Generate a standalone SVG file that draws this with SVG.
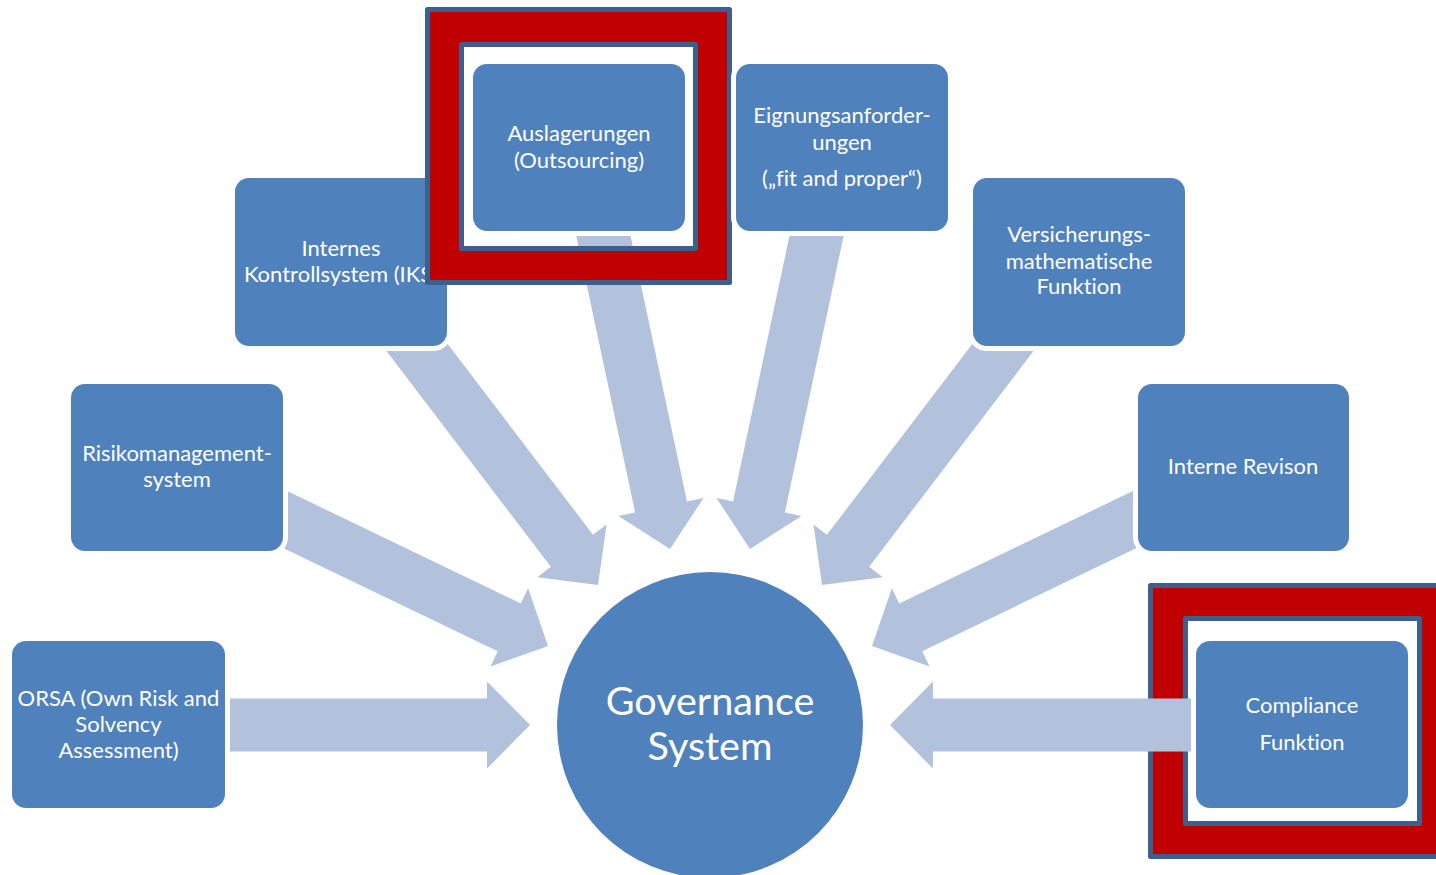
<svg xmlns="http://www.w3.org/2000/svg" width="1436" height="875" viewBox="0 0 1436 875">
  <style>
    .box { fill: #4F81BD; stroke: #FFFFFF; stroke-width: 10; paint-order: stroke fill; }
    .arrow { fill: #B2C1DC; }
    .frame { fill: #C00000; fill-rule: evenodd; stroke: #3C5F8D; stroke-width: 5; stroke-linejoin: round; }
    .label { fill: #FFFFFF; font-family: Lato, "Liberation Sans", sans-serif; font-size: 22px; text-anchor: middle; font-variant-ligatures: none; }
    .title { font-size: 39.5px; }
  </style>
  <rect width="1436" height="875" fill="#FFFFFF"/>

  <!-- highlight frame around the compliance node (sits below its connector) -->
  <g id="highlight-compliance">
    <path class="frame" d="M1150.5,585.5 H1446 V856.5 H1150.5 Z M1185.5,618.5 V823.5 H1419.5 V618.5 Z"/>
  </g>

  <!-- block arrows pointing to the central circle -->
  <g id="connectors">
    <path class="arrow" transform="translate(530,725) rotate(0)" d="M0,0 L-43,-43.5 L-43,-26.5 L-315,-26.5 L-315,26.5 L-43,26.5 L-43,43.5 Z"/>
    <path class="arrow" transform="translate(548,646) rotate(25.7)" d="M0,0 L-43,-43.5 L-43,-26.5 L-320,-26.5 L-320,26.5 L-43,26.5 L-43,43.5 Z"/>
    <path class="arrow" transform="translate(598,585) rotate(52.7)" d="M0,0 L-43,-43.5 L-43,-26.5 L-340,-26.5 L-340,26.5 L-43,26.5 L-43,43.5 Z"/>
    <path class="arrow" transform="translate(670,549) rotate(78)" d="M0,0 L-43,-43.5 L-43,-26.5 L-345,-26.5 L-345,26.5 L-43,26.5 L-43,43.5 Z"/>
    <path class="arrow" transform="translate(750,549) rotate(102)" d="M0,0 L-43,-43.5 L-43,-26.5 L-345,-26.5 L-345,26.5 L-43,26.5 L-43,43.5 Z"/>
    <path class="arrow" transform="translate(822,585) rotate(127.3)" d="M0,0 L-43,-43.5 L-43,-26.5 L-340,-26.5 L-340,26.5 L-43,26.5 L-43,43.5 Z"/>
    <path class="arrow" transform="translate(872,646) rotate(154.3)" d="M0,0 L-43,-43.5 L-43,-26.5 L-320,-26.5 L-320,26.5 L-43,26.5 L-43,43.5 Z"/>
    <path class="arrow" transform="translate(890,725) rotate(180)" d="M0,0 L-43,-43.5 L-43,-26.5 L-310,-26.5 L-310,26.5 L-43,26.5 L-43,43.5 Z"/>
  </g>

  <g id="node-orsa">
    <rect class="box" x="12" y="641" width="213" height="167" rx="14"/>
    <text class="label"><tspan x="118.5" y="706">ORSA (Own Risk and</tspan><tspan x="118.5" y="732">Solvency</tspan><tspan x="118.5" y="758">Assessment)</tspan></text>
  </g>

  <g id="node-risikomanagement">
    <rect class="box" x="71" y="384" width="212" height="167" rx="14"/>
    <text class="label"><tspan x="177" y="461">Risikomanagement-</tspan><tspan x="177" y="487">system</tspan></text>
  </g>

  <g id="node-iks">
    <rect class="box" x="235" y="178" width="212" height="168" rx="14"/>
    <text class="label"><tspan x="341" y="256">Internes</tspan><tspan x="341" y="282">Kontrollsystem (IKS)</tspan></text>
  </g>

  <g id="node-auslagerungen">
    <rect class="box" x="473" y="64" width="212" height="167" rx="14"/>
    <text class="label"><tspan x="579" y="141">Auslagerungen</tspan><tspan x="579" y="168">(Outsourcing)</tspan></text>
    <path class="frame" d="M427.5,9.5 H729.5 V282.5 H427.5 Z M461.5,44.5 V248.5 H695.5 V44.5 Z"/>
  </g>

  <g id="node-eignung">
    <rect class="box" x="736" y="64" width="212" height="167" rx="14"/>
    <text class="label"><tspan x="842" y="123">Eignungsanforder-</tspan><tspan x="842" y="150">ungen</tspan><tspan x="842" y="186">(„fit and proper“)</tspan></text>
  </g>

  <g id="node-versicherungsmathematik">
    <rect class="box" x="973" y="178" width="212" height="168" rx="14"/>
    <text class="label"><tspan x="1079" y="242">Versicherungs-</tspan><tspan x="1079" y="269">mathematische</tspan><tspan x="1079" y="294">Funktion</tspan></text>
  </g>

  <g id="node-revision">
    <rect class="box" x="1138" y="384" width="211" height="167" rx="14"/>
    <text class="label" x="1243" y="474">Interne Revison</text>
  </g>

  <g id="node-compliance">
    <rect class="box" x="1196" y="641" width="212" height="167" rx="14"/>
    <text class="label"><tspan x="1302" y="713">Compliance</tspan><tspan x="1302" y="750">Funktion</tspan></text>
  </g>

  <g id="node-governance">
    <circle cx="710" cy="725" r="153" fill="#4F81BD"/>
    <text class="label title"><tspan x="710" y="715">Governance</tspan><tspan x="710" y="760">System</tspan></text>
  </g>
</svg>
